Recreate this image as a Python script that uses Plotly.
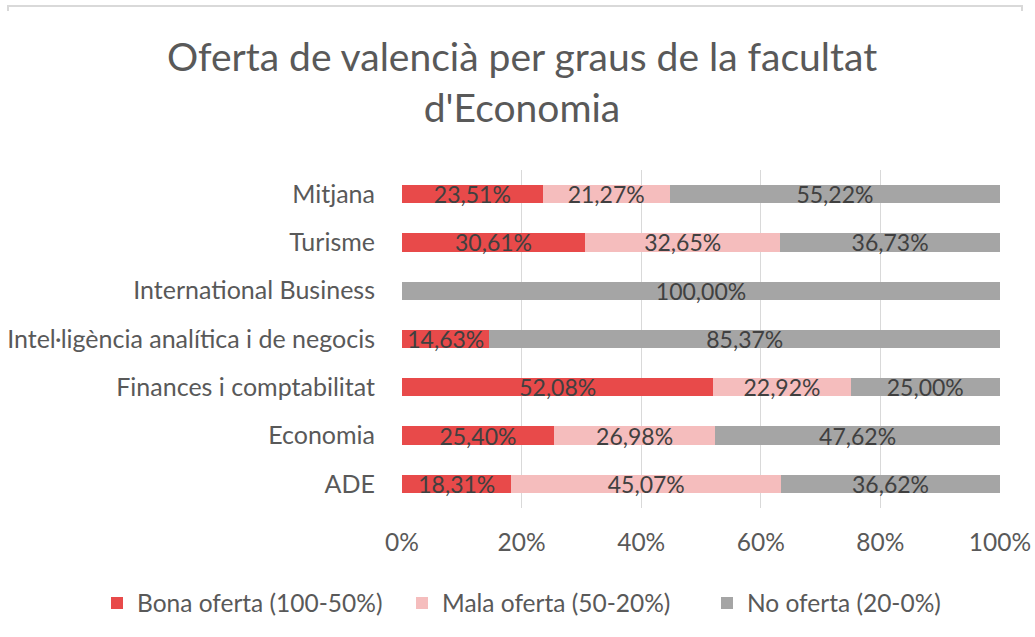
import plotly.graph_objects as go

categories = ["ADE", "Economia", "Finances i comptabilitat",
              "Intel·ligència analítica i de negocis", "International Business",
              "Turisme", "Mitjana"]
bona = [18.31, 25.40, 52.08, 14.63, 0.0, 30.61, 23.51]
mala = [45.07, 26.98, 22.92, 0.0, 0.0, 32.65, 21.27]
no_oferta = [36.62, 47.62, 25.00, 85.37, 100.00, 36.73, 55.22]
series_names = ["Bona oferta (100-50%)", "Mala oferta (50-20%)", "No oferta (20-0%)"]
tick_vals = [0, 20, 40, 60, 80, 100]
tick_text = [f"{v}%" for v in tick_vals]

colors = ["#E84A4A", "#F5BDBD", "#A5A5A5"]
FONT = "Lato, Roboto, Arial, sans-serif"
W, H = 1035, 637
L, R, T, B = 402, 35, 170, 129
pw = W - L - R
ph = H - T - B


def px_x(p):
    return (p - L) / pw


def px_y(p):
    return (H - B - p) / ph


def fmt(v):
    return "" if v == 0 else f"{v:.2f}".replace(".", ",") + "%"


fig = go.Figure()
for name, vals, col in zip(series_names, [bona, mala, no_oferta], colors):
    fig.add_trace(go.Bar(
        y=categories, x=vals, name=name, orientation="h",
        marker=dict(color=col, line=dict(width=0)),
        text=[fmt(v) for v in vals], textposition="inside",
        insidetextanchor="middle", textangle=0, constraintext="none",
        cliponaxis=False,
        textfont=dict(family=FONT, size=23, color="#404040"),
    ))

# light chart-area frame (only its top edge is visible in the reference)
fig.add_shape(type="path", xref="paper", yref="paper",
              path=f"M {px_x(8)},{px_y(11)} L {px_x(8)},{px_y(6)} "
                   f"L {px_x(1022)},{px_y(6)} L {px_x(1022)},{px_y(11)}",
              line=dict(color="#D9D9D9", width=2), layer="below")

fig.update_layout(
    width=W, height=H,
    barmode="stack", bargap=0.62,
    margin=dict(l=L, r=R, t=T, b=B, autoexpand=False),
    paper_bgcolor="white", plot_bgcolor="white",
    title=dict(text="Oferta de valencià per graus de la facultat<br>d'Economia",
               x=px_x(522), xanchor="center", xref="paper",
               y=1 - 71 / H, yanchor="middle",
               font=dict(family=FONT, size=39, color="#595959")),
    xaxis=dict(range=[0, 100], tickvals=tick_vals, ticktext=tick_text,
               showgrid=True, gridcolor="#D9D9D9", gridwidth=1,
               zeroline=False, showline=False, ticks="", automargin=False,
               ticklabelstandoff=17,
               tickfont=dict(family=FONT, size=24.5, color="#595959")),
    yaxis=dict(showgrid=False, zeroline=False, showline=False, ticks="",
               automargin=False, ticklabelstandoff=26,
               tickfont=dict(family=FONT, size=25, color="#595959")),
    legend=dict(orientation="h", xref="paper", x=px_x(97), xanchor="left",
                yref="paper", y=px_y(603), yanchor="middle",
                font=dict(family=FONT, size=24.5, color="#595959"),
                itemwidth=30, traceorder="normal",
                entrywidth=260, entrywidthmode="pixels"),
    showlegend=True,
)

fig.write_html("out.html", config={"displayModeBar": False},
               post_script="document.body.style.margin='0';")
